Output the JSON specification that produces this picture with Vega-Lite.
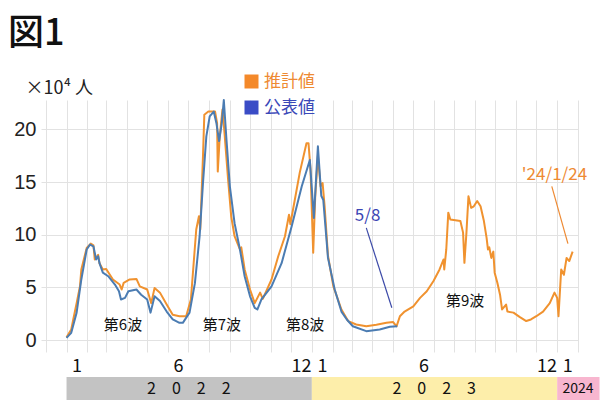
{
  "$schema": "https://vega.github.io/schema/vega-lite/v6.json",
  "autosize": {"type": "pad"},
  "padding": {"left": 8, "top": 16, "right": 0, "bottom": 0},
  "background": "white",
  "title": {"text": "図1", "anchor": "start", "frame": "group", "fontSize": 36, "font": "Noto Sans CJK JP", "fontWeight": 500, "color": "#111111", "dx": -33, "offset": 20},
  "config": {"view": {"stroke": null}, "font": "Noto Sans CJK JP"},
  "spacing": 25,
  "bounds": "flush",
  "resolve": {"scale": {"color": "independent"}, "legend": {"color": "independent"}},
  "datasets": {
    "series": [
      {"date": "2022-01-01", "series": "推計値", "value": 0.25},
      {"date": "2022-01-08", "series": "推計値", "value": 1.0},
      {"date": "2022-01-11", "series": "推計値", "value": 1.95},
      {"date": "2022-01-16", "series": "推計値", "value": 3.5},
      {"date": "2022-01-21", "series": "推計値", "value": 5.1},
      {"date": "2022-01-23", "series": "推計値", "value": 6.7},
      {"date": "2022-01-31", "series": "推計値", "value": 8.75},
      {"date": "2022-02-06", "series": "推計値", "value": 9.16},
      {"date": "2022-02-10", "series": "推計値", "value": 9.0},
      {"date": "2022-02-12", "series": "推計値", "value": 7.65},
      {"date": "2022-02-17", "series": "推計値", "value": 8.1},
      {"date": "2022-02-19", "series": "推計値", "value": 7.3},
      {"date": "2022-02-24", "series": "推計値", "value": 6.7},
      {"date": "2022-03-01", "series": "推計値", "value": 6.75},
      {"date": "2022-03-11", "series": "推計値", "value": 5.75},
      {"date": "2022-03-21", "series": "推計値", "value": 5.27},
      {"date": "2022-03-24", "series": "推計値", "value": 4.8},
      {"date": "2022-03-27", "series": "推計値", "value": 5.43},
      {"date": "2022-04-05", "series": "推計値", "value": 5.75},
      {"date": "2022-04-15", "series": "推計値", "value": 5.8},
      {"date": "2022-04-20", "series": "推計値", "value": 5.1},
      {"date": "2022-05-01", "series": "推計値", "value": 4.8},
      {"date": "2022-05-07", "series": "推計値", "value": 3.5},
      {"date": "2022-05-12", "series": "推計値", "value": 4.95},
      {"date": "2022-05-20", "series": "推計値", "value": 4.5},
      {"date": "2022-05-30", "series": "推計値", "value": 3.37},
      {"date": "2022-06-08", "series": "推計値", "value": 2.4},
      {"date": "2022-06-18", "series": "推計値", "value": 2.26},
      {"date": "2022-06-28", "series": "推計値", "value": 2.26},
      {"date": "2022-07-05", "series": "推計値", "value": 3.85},
      {"date": "2022-07-13", "series": "推計値", "value": 10.5},
      {"date": "2022-07-17", "series": "推計値", "value": 11.75},
      {"date": "2022-07-19", "series": "推計値", "value": 10.5},
      {"date": "2022-07-23", "series": "推計値", "value": 17.45},
      {"date": "2022-07-25", "series": "推計値", "value": 21.4},
      {"date": "2022-07-31", "series": "推計値", "value": 21.7},
      {"date": "2022-08-10", "series": "推計値", "value": 21.7},
      {"date": "2022-08-13", "series": "推計値", "value": 20.6},
      {"date": "2022-08-14", "series": "推計値", "value": 16.0},
      {"date": "2022-08-17", "series": "推計値", "value": 19.35},
      {"date": "2022-08-21", "series": "推計値", "value": 21.9},
      {"date": "2022-08-24", "series": "推計値", "value": 19.7},
      {"date": "2022-08-29", "series": "推計値", "value": 15.55},
      {"date": "2022-09-03", "series": "推計値", "value": 11.75},
      {"date": "2022-09-08", "series": "推計値", "value": 9.86},
      {"date": "2022-09-16", "series": "推計値", "value": 8.6},
      {"date": "2022-09-18", "series": "推計値", "value": 8.8},
      {"date": "2022-09-23", "series": "推計値", "value": 6.7},
      {"date": "2022-10-01", "series": "推計値", "value": 4.8},
      {"date": "2022-10-08", "series": "推計値", "value": 3.5},
      {"date": "2022-10-16", "series": "推計値", "value": 4.5},
      {"date": "2022-10-20", "series": "推計値", "value": 3.9},
      {"date": "2022-11-02", "series": "推計値", "value": 5.75},
      {"date": "2022-11-12", "series": "推計値", "value": 7.96},
      {"date": "2022-11-22", "series": "推計値", "value": 9.86},
      {"date": "2022-11-28", "series": "推計値", "value": 11.9},
      {"date": "2022-11-30", "series": "推計値", "value": 11.0},
      {"date": "2022-12-14", "series": "推計値", "value": 15.9},
      {"date": "2022-12-24", "series": "推計値", "value": 18.7},
      {"date": "2022-12-27", "series": "推計値", "value": 18.7},
      {"date": "2022-12-30", "series": "推計値", "value": 16.2},
      {"date": "2023-01-03", "series": "推計値", "value": 8.3},
      {"date": "2023-01-06", "series": "推計値", "value": 13.6},
      {"date": "2023-01-10", "series": "推計値", "value": 17.5},
      {"date": "2023-01-14", "series": "推計値", "value": 14.6},
      {"date": "2023-01-17", "series": "推計値", "value": 14.9},
      {"date": "2023-01-20", "series": "推計値", "value": 12.7},
      {"date": "2023-01-25", "series": "推計値", "value": 8.0},
      {"date": "2023-02-02", "series": "推計値", "value": 5.1},
      {"date": "2023-02-14", "series": "推計値", "value": 2.9},
      {"date": "2023-02-24", "series": "推計値", "value": 1.8},
      {"date": "2023-03-08", "series": "推計値", "value": 1.47},
      {"date": "2023-03-23", "series": "推計値", "value": 1.31},
      {"date": "2023-04-07", "series": "推計値", "value": 1.45},
      {"date": "2023-04-22", "series": "推計値", "value": 1.63},
      {"date": "2023-05-02", "series": "推計値", "value": 1.7},
      {"date": "2023-05-07", "series": "推計値", "value": 1.3},
      {"date": "2023-05-12", "series": "推計値", "value": 2.26},
      {"date": "2023-05-19", "series": "推計値", "value": 2.7},
      {"date": "2023-06-01", "series": "推計値", "value": 3.2},
      {"date": "2023-06-11", "series": "推計値", "value": 4.0},
      {"date": "2023-06-21", "series": "推計値", "value": 4.63},
      {"date": "2023-07-01", "series": "推計値", "value": 5.6},
      {"date": "2023-07-10", "series": "推計値", "value": 6.7},
      {"date": "2023-07-16", "series": "推計値", "value": 7.65},
      {"date": "2023-07-17", "series": "推計値", "value": 6.7},
      {"date": "2023-07-20", "series": "推計値", "value": 8.6},
      {"date": "2023-07-23", "series": "推計値", "value": 12.1},
      {"date": "2023-07-26", "series": "推計値", "value": 11.45},
      {"date": "2023-08-10", "series": "推計値", "value": 11.3},
      {"date": "2023-08-14", "series": "推計値", "value": 10.2},
      {"date": "2023-08-16", "series": "推計値", "value": 7.33},
      {"date": "2023-08-19", "series": "推計値", "value": 10.2},
      {"date": "2023-08-22", "series": "推計値", "value": 13.65},
      {"date": "2023-08-26", "series": "推計値", "value": 12.55},
      {"date": "2023-08-30", "series": "推計値", "value": 12.7},
      {"date": "2023-09-04", "series": "推計値", "value": 13.2},
      {"date": "2023-09-09", "series": "推計値", "value": 12.7},
      {"date": "2023-09-14", "series": "推計値", "value": 11.3},
      {"date": "2023-09-18", "series": "推計値", "value": 9.7},
      {"date": "2023-09-20", "series": "推計値", "value": 8.6},
      {"date": "2023-09-22", "series": "推計値", "value": 8.8},
      {"date": "2023-09-25", "series": "推計値", "value": 7.8},
      {"date": "2023-09-28", "series": "推計値", "value": 8.4},
      {"date": "2023-09-30", "series": "推計値", "value": 6.4},
      {"date": "2023-10-04", "series": "推計値", "value": 5.43},
      {"date": "2023-10-08", "series": "推計値", "value": 4.3},
      {"date": "2023-10-11", "series": "推計値", "value": 2.9},
      {"date": "2023-10-17", "series": "推計値", "value": 3.37},
      {"date": "2023-10-19", "series": "推計値", "value": 2.7},
      {"date": "2023-10-28", "series": "推計値", "value": 2.6},
      {"date": "2023-11-06", "series": "推計値", "value": 2.2},
      {"date": "2023-11-16", "series": "推計値", "value": 1.8},
      {"date": "2023-11-23", "series": "推計値", "value": 1.95},
      {"date": "2023-12-01", "series": "推計値", "value": 2.26},
      {"date": "2023-12-11", "series": "推計値", "value": 2.7},
      {"date": "2023-12-21", "series": "推計値", "value": 3.5},
      {"date": "2023-12-28", "series": "推計値", "value": 4.5},
      {"date": "2024-01-01", "series": "推計値", "value": 4.0},
      {"date": "2024-01-03", "series": "推計値", "value": 2.26},
      {"date": "2024-01-07", "series": "推計値", "value": 6.7},
      {"date": "2024-01-11", "series": "推計値", "value": 6.2},
      {"date": "2024-01-15", "series": "推計値", "value": 7.8},
      {"date": "2024-01-19", "series": "推計値", "value": 7.5},
      {"date": "2024-01-24", "series": "推計値", "value": 8.4},
      {"date": "2022-01-01", "series": "公表値", "value": 0.2},
      {"date": "2022-01-08", "series": "公表値", "value": 0.68},
      {"date": "2022-01-16", "series": "公表値", "value": 2.6},
      {"date": "2022-01-23", "series": "公表値", "value": 5.75},
      {"date": "2022-01-31", "series": "公表値", "value": 8.6},
      {"date": "2022-02-05", "series": "公表値", "value": 9.07},
      {"date": "2022-02-10", "series": "公表値", "value": 8.9},
      {"date": "2022-02-14", "series": "公表値", "value": 7.65},
      {"date": "2022-02-17", "series": "公表値", "value": 7.96},
      {"date": "2022-02-19", "series": "公表値", "value": 7.3},
      {"date": "2022-02-24", "series": "公表値", "value": 6.4},
      {"date": "2022-03-04", "series": "公表値", "value": 6.06},
      {"date": "2022-03-14", "series": "公表値", "value": 5.27},
      {"date": "2022-03-20", "series": "公表値", "value": 4.63},
      {"date": "2022-03-23", "series": "公表値", "value": 3.85},
      {"date": "2022-03-29", "series": "公表値", "value": 4.0},
      {"date": "2022-04-03", "series": "公表値", "value": 4.63},
      {"date": "2022-04-15", "series": "公表値", "value": 4.8},
      {"date": "2022-04-22", "series": "公表値", "value": 4.3},
      {"date": "2022-05-01", "series": "公表値", "value": 3.85},
      {"date": "2022-05-06", "series": "公表値", "value": 2.6},
      {"date": "2022-05-12", "series": "公表値", "value": 4.15},
      {"date": "2022-05-20", "series": "公表値", "value": 3.7},
      {"date": "2022-05-30", "series": "公表値", "value": 2.7},
      {"date": "2022-06-08", "series": "公表値", "value": 1.95},
      {"date": "2022-06-18", "series": "公表値", "value": 1.63},
      {"date": "2022-06-23", "series": "公表値", "value": 1.63},
      {"date": "2022-07-03", "series": "公表値", "value": 2.6},
      {"date": "2022-07-11", "series": "公表値", "value": 5.4},
      {"date": "2022-07-18", "series": "公表値", "value": 9.86},
      {"date": "2022-07-23", "series": "公表値", "value": 14.9},
      {"date": "2022-07-28", "series": "公表値", "value": 19.35},
      {"date": "2022-08-02", "series": "公表値", "value": 21.25},
      {"date": "2022-08-08", "series": "公表値", "value": 21.7},
      {"date": "2022-08-12", "series": "公表値", "value": 20.6},
      {"date": "2022-08-16", "series": "公表値", "value": 18.9},
      {"date": "2022-08-20", "series": "公表値", "value": 20.6},
      {"date": "2022-08-23", "series": "公表値", "value": 22.8},
      {"date": "2022-08-27", "series": "公表値", "value": 19.0},
      {"date": "2022-09-01", "series": "公表値", "value": 14.6},
      {"date": "2022-09-08", "series": "公表値", "value": 11.1},
      {"date": "2022-09-16", "series": "公表値", "value": 8.6},
      {"date": "2022-09-23", "series": "公表値", "value": 6.06},
      {"date": "2022-10-01", "series": "公表値", "value": 4.15},
      {"date": "2022-10-08", "series": "公表値", "value": 3.05},
      {"date": "2022-10-12", "series": "公表値", "value": 2.9},
      {"date": "2022-10-18", "series": "公表値", "value": 3.85},
      {"date": "2022-11-02", "series": "公表値", "value": 5.1},
      {"date": "2022-11-17", "series": "公表値", "value": 7.3},
      {"date": "2022-12-02", "series": "公表値", "value": 10.8},
      {"date": "2022-12-17", "series": "公表値", "value": 14.6},
      {"date": "2022-12-29", "series": "公表値", "value": 17.1},
      {"date": "2023-01-04", "series": "公表値", "value": 11.6},
      {"date": "2023-01-10", "series": "公表値", "value": 18.4},
      {"date": "2023-01-15", "series": "公表値", "value": 13.7},
      {"date": "2023-01-18", "series": "公表値", "value": 13.3},
      {"date": "2023-01-25", "series": "公表値", "value": 7.8},
      {"date": "2023-02-04", "series": "公表値", "value": 4.8},
      {"date": "2023-02-14", "series": "公表値", "value": 2.7},
      {"date": "2023-02-22", "series": "公表値", "value": 1.95},
      {"date": "2023-03-03", "series": "公表値", "value": 1.31},
      {"date": "2023-03-23", "series": "公表値", "value": 0.84},
      {"date": "2023-04-12", "series": "公表値", "value": 1.0},
      {"date": "2023-04-27", "series": "公表値", "value": 1.25},
      {"date": "2023-05-08", "series": "公表値", "value": 1.3}
    ],
    "notes": [
      {"date": "2022-03-26", "value": 1.47, "label": "第6波", "kind": "wave"},
      {"date": "2022-08-20", "value": 1.47, "label": "第7波", "kind": "wave"},
      {"date": "2022-12-22", "value": 1.47, "label": "第8波", "kind": "wave"},
      {"date": "2023-08-17", "value": 3.68, "label": "第9波", "kind": "wave"},
      {"date": "2023-03-25", "value": 11.8, "label": "5/8", "kind": "blue"},
      {"date": "2023-12-28", "value": 15.7, "label": "'24/1/24", "kind": "orange"}
    ],
    "pointers": [
      {"date": "2023-03-23", "value": 10.65, "date2": "2023-04-30", "value2": 3.06, "kind": "blue"},
      {"date": "2023-12-24", "value": 14.6, "date2": "2024-01-17", "value2": 9.16, "kind": "orange"}
    ],
    "years": [
      {"year": "2022", "label": "2　0　2　2", "start": "2022-01-01", "end": "2023-01-01", "mid": "2022-07-02"},
      {"year": "2023", "label": "2　0　2　3", "start": "2023-01-01", "end": "2024-01-01", "mid": "2023-07-02"},
      {"year": "2024", "label": "2024", "start": "2024-01-01", "end": "2024-03-04", "mid": "2024-02-01"}
    ]
  },
  "vconcat": [
    {
      "width": 537,
      "height": 252,
      "layer": [
        {
          "data": {"name": "series"},
          "transform": [{"filter": "datum.series === '推計値'"}],
          "mark": {"type": "line", "strokeWidth": 2, "strokeJoin": "round"},
          "encoding": {
            "x": {"field": "date", "type": "temporal",
              "scale": {"type": "utc", "domain": [{"year": 2021, "month": 11, "date": 24, "utc": true}, {"year": 2024, "month": 2, "date": 1, "utc": true}]},
              "axis": {"title": null, "labels": false, "ticks": false, "domain": false, "grid": true, "gridColor": "#e2e2e2", "gridWidth": 1, "tickCount": {"interval": "month", "step": 1}}},
            "y": {"field": "value", "type": "quantitative",
              "scale": {"domain": [-1.14, 22.8], "nice": false, "zero": false},
              "axis": {"values": [0, 5, 10, 15, 20], "title": "×10⁴ 人", "titleAngle": 0, "titleAlign": "left", "titleBaseline": "middle", "titleX": -16, "titleY": -12, "titleFontSize": 18, "titleFontWeight": "normal", "titleColor": "#222222", "labelFontSize": 20, "labelColor": "#222222", "labelPadding": 5, "ticks": false, "domain": false, "grid": true, "gridColor": "#e2e2e2", "labelFont": "Liberation Sans"}},
            "color": {"field": "series", "type": "nominal",
              "scale": {"domain": ["推計値"], "range": ["#f0922f"]},
              "legend": {"title": null, "orient": "none", "legendX": 202, "legendY": -27, "symbolType": "square", "symbolSize": 196, "symbolFillColor": "#f4892a", "symbolStrokeWidth": 0, "labelFontSize": 17, "labelOffset": 4, "padding": 0, "labelColor": "#ee8a33"}}
          }
        },
        {
          "data": {"name": "series"},
          "transform": [{"filter": "datum.series === '公表値'"}],
          "mark": {"type": "line", "strokeWidth": 2, "strokeJoin": "round"},
          "encoding": {
            "x": {"field": "date", "type": "temporal"},
            "y": {"field": "value", "type": "quantitative"},
            "stroke": {"field": "series", "type": "nominal",
              "scale": {"domain": ["公表値"], "range": ["#4b7cb2"]},
              "legend": {"title": null, "orient": "none", "legendX": 202, "legendY": -1, "symbolType": "square", "symbolSize": 196, "symbolFillColor": "#3a4cc6", "symbolStrokeWidth": 0, "labelFontSize": 17, "labelOffset": 4, "padding": 0, "labelColor": "#3a48b8"}}
          }
        },
        {
          "data": {"name": "pointers"},
          "transform": [{"filter": "datum.kind === 'blue'"}],
          "mark": {"type": "rule", "strokeWidth": 1.2, "color": "#3c4aa8"},
          "encoding": {
            "x": {"field": "date", "type": "temporal"},
            "y": {"field": "value", "type": "quantitative"},
            "x2": {"field": "date2"},
            "y2": {"field": "value2"}
          }
        },
        {
          "data": {"name": "pointers"},
          "transform": [{"filter": "datum.kind === 'orange'"}],
          "mark": {"type": "rule", "strokeWidth": 1.2, "color": "#ee8a33"},
          "encoding": {
            "x": {"field": "date", "type": "temporal"},
            "y": {"field": "value", "type": "quantitative"},
            "x2": {"field": "date2"},
            "y2": {"field": "value2"}
          }
        },
        {
          "data": {"name": "notes"},
          "transform": [{"filter": "datum.kind === 'wave'"}],
          "mark": {"type": "text", "align": "center", "baseline": "middle", "fontSize": 15, "color": "#111111"},
          "encoding": {
            "x": {"field": "date", "type": "temporal"},
            "y": {"field": "value", "type": "quantitative"},
            "text": {"field": "label"}
          }
        },
        {
          "data": {"name": "notes"},
          "transform": [{"filter": "datum.kind === 'blue'"}],
          "mark": {"type": "text", "align": "center", "baseline": "middle", "fontSize": 17, "color": "#3c46b4"},
          "encoding": {
            "x": {"field": "date", "type": "temporal"},
            "y": {"field": "value", "type": "quantitative"},
            "text": {"field": "label"}
          }
        },
        {
          "data": {"name": "notes"},
          "transform": [{"filter": "datum.kind === 'orange'"}],
          "mark": {"type": "text", "align": "center", "baseline": "middle", "fontSize": 17, "color": "#ee8a33"},
          "encoding": {
            "x": {"field": "date", "type": "temporal"},
            "y": {"field": "value", "type": "quantitative"},
            "text": {"field": "label"}
          }
        }
      ]
    },
    {
      "width": 537,
      "height": 23,
      "data": {"name": "years"},
      "layer": [
        {
          "mark": {"type": "rect"},
          "encoding": {
            "x": {"field": "start", "type": "temporal",
              "scale": {"type": "utc", "domain": [{"year": 2021, "month": 11, "date": 24, "utc": true}, {"year": 2024, "month": 2, "date": 1, "utc": true}]},
              "axis": {"orient": "top", "title": null, "ticks": false, "tickSize": 0, "domain": false, "grid": false, "labelPadding": 2, "labelFontSize": 18, "labelColor": "#111111", "labelOverlap": false, "labelFlush": false, "labelBound": false,
                "values": [
                  {"year": 2022, "month": 1, "date": 16, "utc": true},
                  {"year": 2022, "month": 6, "date": 16, "utc": true},
                  {"year": 2022, "month": 12, "date": 16, "utc": true},
                  {"year": 2023, "month": 1, "date": 16, "utc": true},
                  {"year": 2023, "month": 6, "date": 16, "utc": true},
                  {"year": 2023, "month": 12, "date": 16, "utc": true},
                  {"year": 2024, "month": 1, "date": 16, "utc": true}
                ],
                "labelExpr": "utcFormat(datum.value, '%-m')"}},
            "x2": {"field": "end"},
            "color": {"field": "year", "type": "nominal", "scale": {"domain": ["2022", "2023", "2024"], "range": ["#c3c3c3", "#fdeeaa", "#f8b6cf"]}, "legend": null}
          }
        },
        {
          "transform": [{"filter": "datum.year !== '2024'"}],
          "mark": {"type": "text", "align": "center", "baseline": "middle", "color": "#111111", "fontSize": 16},
          "encoding": {
            "x": {"field": "mid", "type": "temporal"},
            "text": {"field": "label"}
          }
        },
        {
          "transform": [{"filter": "datum.year === '2024'"}],
          "mark": {"type": "text", "align": "center", "baseline": "middle", "color": "#111111", "fontSize": 14},
          "encoding": {
            "x": {"field": "mid", "type": "temporal"},
            "text": {"field": "label"}
          }
        }
      ]
    }
  ]
}
